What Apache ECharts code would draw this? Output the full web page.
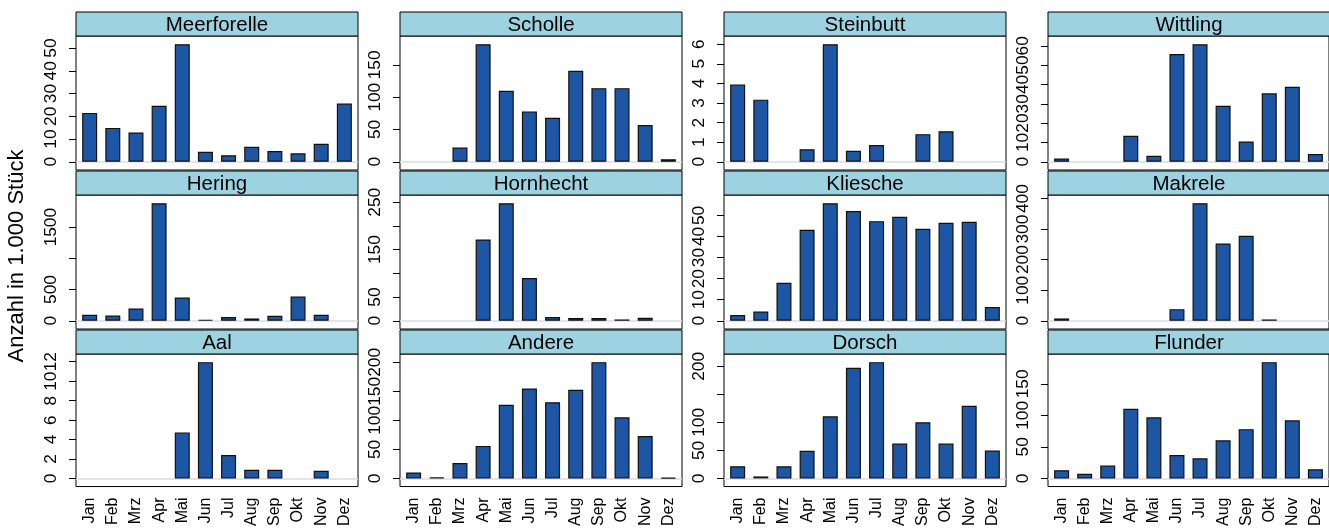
<!DOCTYPE html>
<html>
<head>
<meta charset="utf-8">
<script src="https://cdn.jsdelivr.net/npm/echarts@6/dist/echarts.min.js"></script>
<style>
html,body{margin:0;padding:0;background:#fff;}
#chart{width:1329px;height:529px;}
</style>
</head>
<body>
<div id="chart"></div>
<script>
// ---- data ----
const months = ['Jan','Feb','Mrz','Apr','Mai','Jun','Jul','Aug','Sep','Okt','Nov','Dez'];
const yTitle = 'Anzahl in 1.000 Stück';

const meerforelle = [21.5,14.9,12.9,24.6,51.7,4.4,2.9,6.6,4.7,3.7,7.9,25.6];
const scholle     = [null,null,22,182,110,78,68,141,114,114,57,4];
const steinbutt   = [3.95,3.17,null,0.64,6.0,0.56,0.85,null,1.41,1.56,null,null];
const wittling    = [1.7,null,null,13.4,3.1,55.7,60.8,29.0,10.5,35.4,38.8,4.0];
const hering      = [96,85,197,1883,372,16,59,37,80,388,96,null];
const hornhecht   = [null,null,null,171.6,248,90.3,7.7,5.6,5.6,2.8,6.3,null];
const kliesche    = [2.7,4.4,18.0,43.2,55.8,52.1,47.3,49.4,43.7,46.5,47.0,6.5];
const makrele     = [7.6,null,null,null,null,38,384.8,253,278,4.3,null,null];
const aal         = [null,null,null,null,4.73,11.96,2.4,0.88,0.88,null,0.78,null];
const andere      = [10.2,1.7,26.6,56,126.8,155,131.4,152.9,200.5,105.3,73,1.1];
const dorsch      = [21.7,3.5,21.7,49.2,110.8,197.5,207.5,62.1,100.2,62.1,129.5,49.8];
const flunder     = [13,7.3,20.3,110.4,96.9,37,31.8,60.4,78.1,184.4,92.2,14.6];

// tick positions and the tick labels that are printed
const ticksMeerforelle = [0,10,20,30,40,50],   labelsMeerforelle = [0,10,20,30,40,50];
const ticksScholle     = [0,50,100,150],        labelsScholle     = [0,50,100,150];
const ticksSteinbutt   = [0,1,2,3,4,5,6],       labelsSteinbutt   = [0,1,2,3,4,5,6];
const ticksWittling    = [0,10,20,30,40,50,60], labelsWittling    = [0,10,20,30,40,50,60];
const ticksHering      = [0,500,1000,1500],     labelsHering      = [0,500,1500];
const ticksHornhecht   = [0,50,100,150,200,250],labelsHornhecht   = [0,50,150,250];
const ticksKliesche    = [0,10,20,30,40,50],    labelsKliesche    = [0,10,20,30,40,50];
const ticksMakrele     = [0,100,200,300,400],   labelsMakrele     = [0,100,200,300,400];
const ticksAal         = [0,2,4,6,8,10,12],     labelsAal         = [0,2,4,6,8,10,12];
const ticksAndere      = [0,50,100,150,200],    labelsAndere      = [0,50,100,150,200];
const ticksDorsch      = [0,50,100,150,200],    labelsDorsch      = [0,50,100,200];
const ticksFlunder     = [0,50,100,150],        labelsFlunder     = [0,50,100,150];

const panels = [
  {name:'Meerforelle', values:meerforelle, ticks:ticksMeerforelle, labels:labelsMeerforelle},
  {name:'Scholle',     values:scholle,     ticks:ticksScholle,     labels:labelsScholle},
  {name:'Steinbutt',   values:steinbutt,   ticks:ticksSteinbutt,   labels:labelsSteinbutt},
  {name:'Wittling',    values:wittling,    ticks:ticksWittling,    labels:labelsWittling},
  {name:'Hering',      values:hering,      ticks:ticksHering,      labels:labelsHering},
  {name:'Hornhecht',   values:hornhecht,   ticks:ticksHornhecht,   labels:labelsHornhecht},
  {name:'Kliesche',    values:kliesche,    ticks:ticksKliesche,    labels:labelsKliesche},
  {name:'Makrele',     values:makrele,     ticks:ticksMakrele,     labels:labelsMakrele},
  {name:'Aal',         values:aal,         ticks:ticksAal,         labels:labelsAal},
  {name:'Andere',      values:andere,      ticks:ticksAndere,      labels:labelsAndere},
  {name:'Dorsch',      values:dorsch,      ticks:ticksDorsch,      labels:labelsDorsch},
  {name:'Flunder',     values:flunder,     ticks:ticksFlunder,     labels:labelsFlunder}
];

// ---- layout ----
const FONT = '"Liberation Sans", Arial, Helvetica, sans-serif';
const colLeft = [76, 400, 724, 1048];
const rowTop = [12, 171, 330];
const panelW = 282, stripH = 24, plotH = 134;
const stripColor = '#9dd3e0';
const barColor = '#1e56a6';

const grids = [], xAxes = [], yAxes = [], series = [], graphics = [];

panels.forEach((p, i) => {
  const r = Math.floor(i / 4), c = i % 4;
  const left = colLeft[c], top = rowTop[r];
  const bottomRow = (r === 2);
  const m = Math.max(...p.values.filter(v => v != null));

  grids.push({left: left, top: top + stripH, width: panelW, height: plotH,
    show: true, borderColor: '#000', borderWidth: 1, backgroundColor: '#fff', containLabel: false});

  xAxes.push({gridIndex: i, type: 'value', min: 0.41, max: 12.59,
    axisLine: {show: false}, axisTick: {show: false}, splitLine: {show: false},
    axisLabel: bottomRow ? {
      show: true, customValues: months.map((_, k) => k + 1),
      formatter: v => months[Math.round(v) - 1],
      rotate: 90, fontSize: 16, fontFamily: FONT, color: '#000', margin: 11
    } : {show: false}
  });

  yAxes.push({gridIndex: i, type: 'value', min: -0.07 * m, max: 1.07 * m,
    axisLine: {show: false}, splitLine: {show: false},
    axisTick: {show: true, length: 7, customValues: p.ticks, lineStyle: {color: '#000', width: 1}},
    axisLabel: {show: true, customValues: p.labels, rotate: 90, fontSize: 17.3,
      fontFamily: FONT, color: '#000', margin: 16, formatter: v => String(v)}
  });

  series.push({type: 'bar', xAxisIndex: i, yAxisIndex: i, barWidth: 15,
    data: p.values.map((v, k) => [k + 1, v]).filter(d => d[1] != null),
    itemStyle: {color: barColor, borderColor: '#111', borderWidth: 1.2},
    markLine: {silent: true, symbol: 'none', z: 1, label: {show: false},
      lineStyle: {color: '#dcdcdc', width: 1.5, type: 'solid'},
      data: [{yAxis: 0}]},
    z: 3
  });

  graphics.push({type: 'rect', shape: {x: left, y: top, width: panelW, height: stripH},
    style: {fill: stripColor, stroke: '#000', lineWidth: 1}, z: 10});
  graphics.push({type: 'text', x: left + panelW / 2, y: top + stripH / 2 + 1,
    style: {text: p.name, fontSize: 20.5, fontFamily: FONT, fill: '#000',
      textAlign: 'center', textVerticalAlign: 'middle'}, z: 11});
});

graphics.push({type: 'text', x: 17, y: 256, rotation: Math.PI / 2,
  style: {text: yTitle, fontSize: 22, fontFamily: FONT, fill: '#000',
    textAlign: 'center', textVerticalAlign: 'middle'}});

const chart = echarts.init(document.getElementById('chart'), null, {renderer: 'canvas'});
chart.setOption({
  animation: false,
  backgroundColor: '#fff',
  grid: grids, xAxis: xAxes, yAxis: yAxes, series: series, graphic: graphics
});
</script>
</body>
</html>
